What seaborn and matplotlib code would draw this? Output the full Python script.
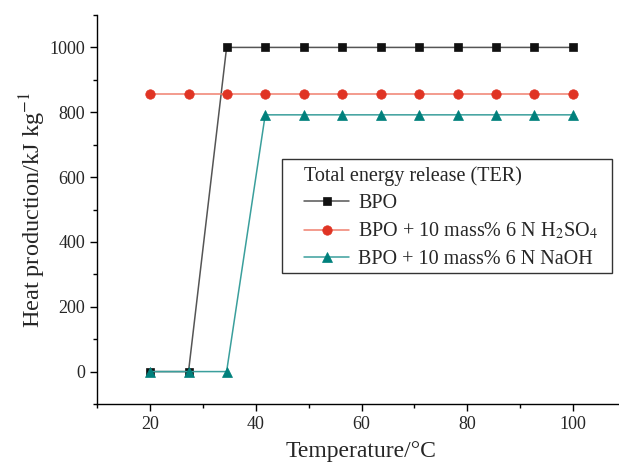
import numpy as np
import pandas as pd
import seaborn as sns
import matplotlib.pyplot as plt
from matplotlib.ticker import MultipleLocator
from matplotlib.patches import Rectangle

# temperatures (12 evenly spaced points, 20 -> 100 C)
temperature = [20, 27.3, 34.5, 41.8, 49.1, 56.4, 63.6, 70.9, 78.2, 85.5, 92.7, 100]
bpo = [0, 0, 1000, 1000, 1000, 1000, 1000, 1000, 1000, 1000, 1000, 1000]
bpo_h2so4 = [855] * 12
bpo_naoh = [0, 0, 0, 792, 792, 792, 792, 792, 792, 792, 792, 792]

labels = ["BPO", "BPO + 10 mass% 6 N H$_2$SO$_4$", "BPO + 10 mass% 6 N NaOH"]

sns.set_style("ticks")
plt.rcParams["font.family"] = ["Liberation Serif", "DejaVu Serif"]
plt.rcParams["mathtext.fontset"] = "stix"

W, H = 619, 463
fig = plt.figure(figsize=(W / 100, H / 100), dpi=100)
# axes run x 10..110 (right end falls just off the canvas), y -100..1100
ax = fig.add_axes([97 / W, 1 - 404 / H, 529 / W, 389 / H])

# black squares, red circles, teal triangles
series = [
    (bpo, labels[0], "#111111", "#555555", "s", 5.8),
    (bpo_h2so4, labels[1], "#e03424", "#f0806f", "o", 6.8),
    (bpo_naoh, labels[2], "#00807c", "#3a9f9c", "^", 7.5),
]
for vals, lab, mcol, lcol, mk, ms in series:
    df = pd.DataFrame({"T": temperature, "H": vals})
    sns.lineplot(data=df, x="T", y="H", ax=ax, color=lcol, lw=1.1,
                 marker=mk, markersize=ms, markerfacecolor=mcol,
                 markeredgecolor=mcol, markeredgewidth=0.5, label=lab)

ax.set_xlim(10, 110)
ax.set_ylim(-100, 1100)
ax.xaxis.set_major_locator(MultipleLocator(20))
ax.xaxis.set_minor_locator(MultipleLocator(10))
ax.yaxis.set_minor_locator(MultipleLocator(100))
ax.set_yticks([0, 200, 400, 600, 800, 1000])
ax.tick_params(which="major", length=5, width=1, labelsize=13, color="black")
ax.tick_params(which="minor", length=3, width=1, color="black")
sns.despine(ax=ax)
for s in ["left", "bottom"]:
    ax.spines[s].set_color("black")
    ax.spines[s].set_linewidth(1)

ax.set_xlabel("Temperature/°C", fontsize=17, labelpad=6)
ax.set_ylabel("Heat production/kJ kg$^{-1}$", fontsize=17.5, labelpad=1)

# legend frame drawn separately so the inner padding can be wider than tall
ax.add_patch(Rectangle((282 / W, 1 - 273 / H), 330 / W, 114 / H,
                       transform=fig.transFigure, facecolor="white",
                       edgecolor="#333333", lw=1, zorder=4.5, clip_on=False))
leg = ax.legend(title="Total energy release (TER)", loc="upper left",
                bbox_to_anchor=(304 / W, 1 - 166 / H), bbox_transform=fig.transFigure,
                borderaxespad=0, borderpad=0, frameon=False,
                fontsize=14.5, title_fontsize=14.5,
                handlelength=2.25, handletextpad=0.45, labelspacing=0.4)
leg._legend_box.align = "left"
leg.set_zorder(5)

fig.savefig("out.png", dpi=100)
